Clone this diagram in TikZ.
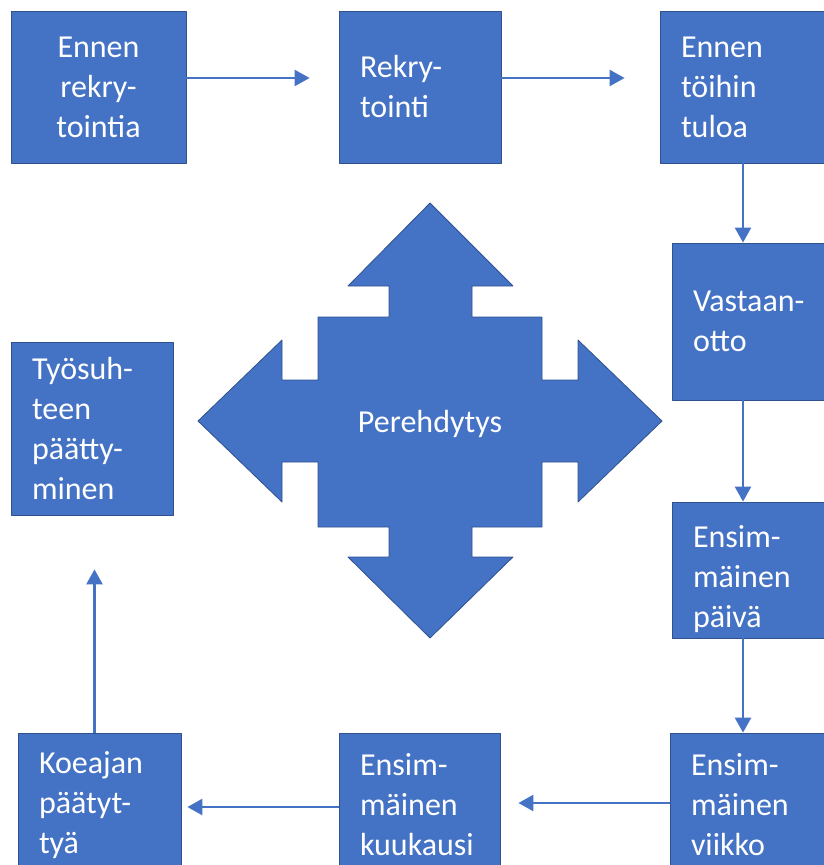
\documentclass[tikz,border=0pt]{standalone}
\usepackage{fontspec}
\newfontfamily\calib{Carlito}
\usetikzlibrary{arrows.meta}
\definecolor{officeblue}{HTML}{4472C4}
\definecolor{officeedge}{HTML}{2F528F}
\begin{document}
\begin{tikzpicture}[x=1pt, y=-1pt, line join=round, font={\calib\fontsize{32}{40}\selectfont},
	box/.style={rectangle, fill=officeblue, draw=officeedge, line width=0.8pt, text=white, inner xsep=21pt, inner ysep=0pt, align=left},
	flow/.style={-{Triangle[length=15pt,width=16pt]}, draw=officeblue, line width=2.5pt}]
	\useasboundingbox (0,0) rectangle (824,865);
	\clip (0,0) rectangle (824,865);
	%\tikzset{box/.append style={draw=none}}
	\node[box, align=center, text width=133pt, minimum width=175pt, minimum height=152pt] (pre) at (98.5,87) {Ennen\\rekry-\\tointia};
	\node[box, text width=120pt, minimum width=162pt, minimum height=152pt] (rekry) at (420,87) {Rekry-\\tointi};
	\node[box, text width=124pt, minimum width=166pt, minimum height=152pt] (ennen) at (743,87) {Ennen\\töihin\\tuloa};
	\node[box, text width=116pt, minimum width=158pt, minimum height=157pt] (vast) at (751,321.5) {Vastaan-\\otto};
	\node[box, text width=116pt, minimum width=158pt, minimum height=136pt] (paiva) at (751,570) {\rule{0pt}{40pt}Ensim-\\mäinen\\päivä};
	\node[box, text width=118pt, minimum width=160pt, minimum height=144pt] (viikko) at (750,805) {Ensim-\\mäinen\\viikko};
	\node[box, text width=119pt, minimum width=161pt, minimum height=144pt] (kuukausi) at (419.5,805) {Ensim-\\mäinen\\kuukausi};
	\node[box, text width=121pt, minimum width=163pt, minimum height=144pt] (koe) at (99.5,805) {Koeajan\\päätyt-\\tyä};
	\node[box, text width=120pt, minimum width=162pt, minimum height=173pt] (tyo) at (92,428.5) {Työsuh-\\teen\\päätty-\\minen};
	\draw[fill=officeblue, draw=officeedge, line width=0.8pt] (430,203) -- (513,286) -- (472,286) -- (472,317) -- (542,317) -- (542,380) -- (578,380) -- (578,340) -- (662,421) -- (578,502) -- (578,462) -- (542,462) -- (542,527) -- (472,527) -- (472,557) -- (513,557) -- (430,638) -- (348,557) -- (389,557) -- (389,527) -- (318,527) -- (318,462) -- (282,462) -- (282,502) -- (198,421) -- (282,340) -- (282,380) -- (318,380) -- (318,317) -- (389,317) -- (389,286) -- (348,286) -- cycle;
	\node[text=white] (pere) at (430,424) {Perehdytys};
	\draw[flow, shorten >=29pt] ([yshift=9pt]pre.east) -- ([yshift=9pt]rekry.west);
	\draw[flow, shorten >=35pt] ([yshift=9pt]rekry.east) -- ([yshift=9pt]ennen.west);
	\draw[flow] (ennen.south) -- (ennen.south |- vast.north);
	\draw[flow] (ennen.south |- vast.south) -- (ennen.south |- paiva.north);
	\draw[flow] (ennen.south |- paiva.south) -- (ennen.south |- viikko.north);
	\draw[flow, shorten >=18pt] ([yshift=2pt]viikko.west) -- ([yshift=2pt]kuukausi.east);
	\draw[flow, shorten >=6pt] ([yshift=-2pt]kuukausi.west) -- ([yshift=-2pt]koe.east);
	\draw[flow, shorten >=54pt] ([xshift=-5pt]koe.north) -- ([xshift=-5pt]koe.north |- tyo.south);
\end{tikzpicture}
\end{document}
